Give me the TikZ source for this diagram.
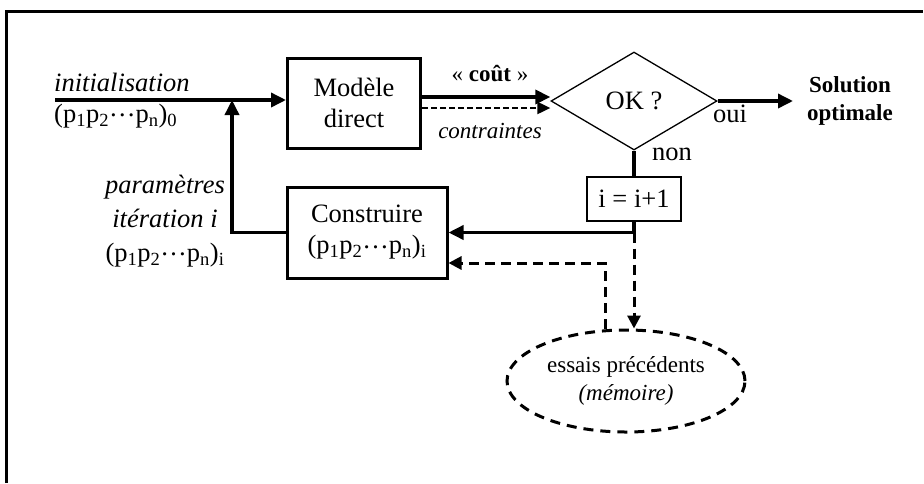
\documentclass[tikz,border=0pt]{standalone}
\usepackage{fontspec}
\setmainfont{Liberation Serif}
\usetikzlibrary{arrows.meta,shapes.geometric}
\newcommand{\pseq}[1]{(p\textsubscript{1}p\textsubscript{2}\raisebox{0.22em}{…}p\textsubscript{n})\textsubscript{#1}}
\tikzset{
  big/.style={font=\fontsize{26.5}{31}\selectfont},
  small/.style={font=\fontsize{23}{28}\selectfont},
  box/.style={draw, line width=3pt, align=center, inner sep=0pt, big},
  thinbox/.style={draw, line width=1.3pt, align=center, inner sep=0pt, big},
  lbl/.style={inner sep=0pt, align=center},
  arr/.style={line width=3.5pt, -{Triangle[length=15pt,width=14pt]}},
  plain/.style={line width=3.5pt},
  darr/.style={line width=3pt, dash pattern=on 10pt off 6pt, -{Triangle[length=13pt,width=13pt]}},
  tdarr/.style={line width=2pt, dash pattern=on 6pt off 3pt, -{Triangle[length=13pt,width=12pt]}}
}
\begin{document}
\begin{tikzpicture}[x=1pt,y=-1pt]
\useasboundingbox (0,0) rectangle (924,483);
% frame
\draw[line width=3pt] (6.5,483) -- (6.5,11) -- (923,11);
% nodes
\node[box, minimum width=133pt, minimum height=90pt] (model) at (354,103) {Modèle\\direct};
\node[box, minimum width=160pt, minimum height=91pt] (constr) at (367,232.5) {Construire\\\pseq{i}};
\node[diamond, draw, line width=1.3pt, inner sep=0pt, minimum width=166pt, minimum height=98pt, big] (ok) at (634,101) {OK ?};
\node[thinbox, minimum width=94pt, minimum height=44pt] (inc) at (634,199) {i = i+1};
\node[ellipse, draw, line width=3pt, dash pattern=on 10pt off 7pt, inner sep=0pt, minimum width=238pt, minimum height=102pt, align=center, small] (mem) at (626,381) {essais précédents\\\textit{(mémoire)}};
\node[lbl, anchor=west, font=\fontsize{23}{28}\selectfont\bfseries] (sol) at (807,101) {Solution\\optimale};
% labels
\node[lbl, anchor=west, big] (initlbl) at (54,82) {\textit{initialisation}};
\node[lbl, anchor=west, big] (p0) at (54,116) {\pseq{0}};
\node[lbl, big, font=\fontsize{26.5}{34}\selectfont] (param) at (165,221) {\textit{paramètres}\\\textit{itération i}\\\pseq{i}};
\node[lbl, small] (cout) at (490,74) {« \textbf{coût} »};
\node[lbl, small] (contr) at (490,131) {\textit{contraintes}};
\node[lbl, big] (oui) at (730,114) {oui};
\node[lbl, big] (non) at (672,154) {non};
% coordinates
\coordinate (initstart) at (55,100);
\coordinate (junc) at (232,100);
\coordinate (split) at (634,232.5);
\coordinate (memtap) at (605,263);
% connectors
\draw[arr] (initstart) -- (model.west |- initstart);
\draw[arr] (constr.west) -- (junc |- constr.west) -- (junc);
\draw[arr] ([yshift=6pt]model.east) -- ([yshift=6pt]model.east -| ok.west);
\draw[tdarr] ([yshift=-5pt]model.east) -- ([yshift=-5pt]model.east -| ok.west);
\draw[arr] (ok.east) -- ([xshift=-14pt]sol.west);
\draw[plain] (ok.south) -- (inc.north);
\draw[arr] (inc.south) -- (split) -- (constr.east);
\draw[darr] (split) -- (mem.north -| split);
\draw[darr] ([xshift=-21pt]mem.north) -- (memtap) -- (constr.east |- memtap);
\end{tikzpicture}
\end{document}
